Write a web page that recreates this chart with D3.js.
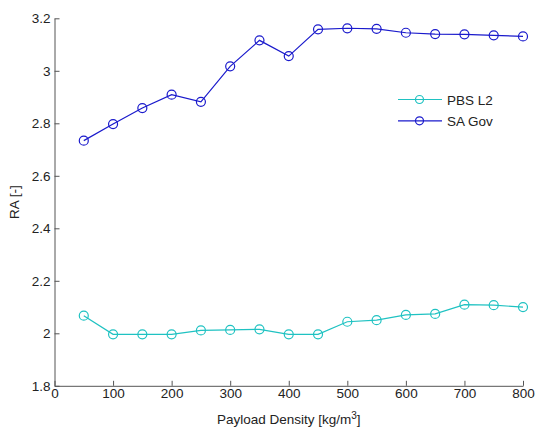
<!DOCTYPE html>
<html><head><meta charset="utf-8">
<script src="https://cdn.jsdelivr.net/npm/d3@7"></script>
<style>
body{margin:0;background:#fff;}
text{font-family:"Liberation Sans",Arial,sans-serif;}
</style></head>
<body><svg id="c" width="538" height="430"></svg>
<script>
const xValues = [50,100,150,200,250,300,350,400,450,500,550,600,650,700,750,800];
const pbsL2 = [2.067,1.996,1.996,1.996,2.011,2.013,2.015,1.996,1.996,2.044,2.050,2.070,2.074,2.109,2.107,2.100];
const saGov = [2.734,2.797,2.858,2.909,2.882,3.017,3.116,3.056,3.158,3.162,3.160,3.145,3.140,3.139,3.135,3.131];
const seriesNames = ["PBS L2","SA Gov"];
const seriesColors = ["#1fc2c2","#1a1acc"];
const xTicks = [0,100,200,300,400,500,600,700,800];
const yTicks = [1.8,2,2.2,2.4,2.6,2.8,3,3.2];

const FS = "13.5px";
const svg = d3.select("#c");
const x = d3.scaleLinear().domain([0,800]).range([54.5, 523]);
const y = d3.scaleLinear().domain([1.8,3.2]).range([385.8, 18.3]);
const axisColor = "#555";

const xa = svg.append("g").attr("transform",`translate(0,${y(1.8)})`)
  .call(d3.axisBottom(x).tickValues(xTicks).tickFormat(d3.format("d")).tickSizeInner(-5).tickSizeOuter(0).tickPadding(3));
const ya = svg.append("g").attr("transform",`translate(${x(0)},0)`)
  .call(d3.axisLeft(y).tickValues(yTicks).tickFormat(d=>String(+d.toFixed(1))).tickSizeInner(-5).tickSizeOuter(0).tickPadding(4));
[xa,ya].forEach(a=>{
  a.select(".domain").attr("stroke",axisColor).attr("stroke-width",1);
  a.selectAll(".tick line").attr("stroke",axisColor);
  a.selectAll(".tick text").attr("fill","#222").style("font-size",FS).style("font-family","'Liberation Sans',Arial,sans-serif");
});

const data = [pbsL2, saGov];
data.forEach((vals,i)=>{
  const pts = xValues.map((xv,j)=>[xv, vals[j]]);
  svg.append("path").datum(pts)
    .attr("fill","none").attr("stroke",seriesColors[i]).attr("stroke-width",1.2)
    .attr("d", d3.line().x(d=>x(d[0])).y(d=>y(d[1])));
  svg.append("g").selectAll("circle").data(pts).join("circle")
    .attr("cx",d=>x(d[0])).attr("cy",d=>y(d[1])).attr("r",4.5)
    .attr("fill","none").attr("stroke",seriesColors[i]).attr("stroke-width",1.2);
});

// legend
const lg = svg.append("g");
seriesNames.forEach((n,i)=>{
  const yy = 99.5 + i*21.3;
  lg.append("line").attr("x1",398).attr("x2",442).attr("y1",yy).attr("y2",yy)
    .attr("stroke",seriesColors[i]).attr("stroke-width",1.2);
  lg.append("circle").attr("cx",419.5).attr("cy",yy).attr("r",4)
    .attr("fill","none").attr("stroke",seriesColors[i]).attr("stroke-width",1.2);
  lg.append("text").attr("x",447).attr("y",yy+5).text(n).style("font-size",FS).attr("fill","#222");
});

// axis labels
const xl = svg.append("text").attr("x",(x(0)+x(800))/2).attr("y",424).attr("text-anchor","middle")
  .style("font-size",FS).attr("fill","#222");
xl.append("tspan").text("Payload Density [kg/m");
xl.append("tspan").text("3").attr("dy",-5).style("font-size","10px");
xl.append("tspan").text("]").attr("dy",5);

svg.append("text").attr("transform",`translate(19,${(y(1.8)+y(3.2))/2}) rotate(-90)`)
  .attr("text-anchor","middle").style("font-size",FS).attr("fill","#222").text("RA [-]");
</script></body></html>
